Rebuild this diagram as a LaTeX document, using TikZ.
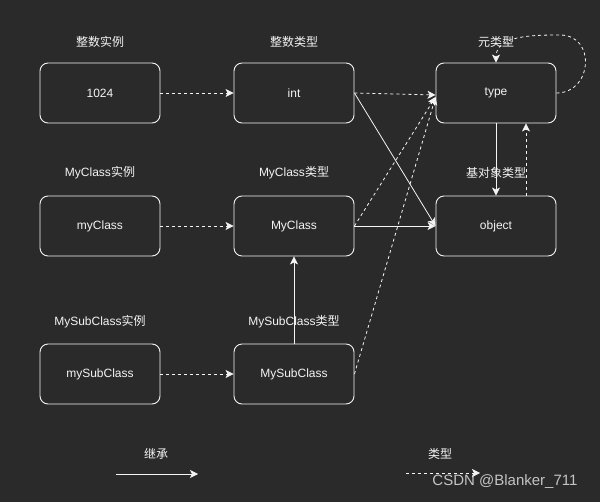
\documentclass[tikz,border=0pt]{standalone}
\usepackage{fontspec}
\setmainfont{Liberation Sans}
\newfontfamily\cjk{Noto Sans CJK SC}
\usetikzlibrary{arrows.meta}
\definecolor{bgdark}{HTML}{2A2A2A}
\definecolor{fg}{HTML}{F4F4F4}
\definecolor{mark}{HTML}{C4C4C4}
\tikzset{
  box/.style={draw=fg, line width=0.9pt, rounded corners=8pt, minimum width=120pt, minimum height=60pt, text=fg, font=\fontsize{12}{14}\selectfont, inner sep=0pt},
  caption/.style={text=fg, font=\fontsize{12}{14}\selectfont, inner sep=1pt},
  inherit/.style={draw=fg, line width=0.8pt, -{Stealth[length=8pt,width=8pt,inset=2pt]}},
  typeof/.style={inherit, dash pattern=on 3pt off 3pt}
}
\begin{document}
\begin{tikzpicture}[x=1pt,y=1pt]
  \fill[bgdark] (0,0) rectangle (600,-502);
  \useasboundingbox (0,0) rectangle (600,-502);
  % boxes
  \node[box] (v1024) at (100,-93) {1024};
  \node[box] (int) at (294,-93) {int};
  \node[box] (type) at (496,-93) {type};
  \node[box] (myobj) at (100,-226) {myClass};
  \node[box] (MyClass) at (294,-226) {MyClass};
  \node[box] (object) at (496,-226) {object};
  \node[box] (mysubobj) at (100,-374) {mySubClass};
  \node[box] (MySubClass) at (294,-374) {MySubClass};
  % captions
  \node[caption] (c1) at (100,-42) {\cjk 整数实例};
  \node[caption] (c2) at (294,-42) {\cjk 整数类型};
  \node[caption] (c3) at (496,-42) {\cjk 元类型};
  \node[caption] (c4) at (100,-173) {MyClass{\cjk 实例}};
  \node[caption] (c5) at (294,-173) {MyClass{\cjk 类型}};
  \node[caption] (c6) at (496,-173) {\cjk 基对象类型};
  \node[caption] (c7) at (100,-322) {MySubClass{\cjk 实例}};
  \node[caption] (c8) at (294,-322) {MySubClass{\cjk 类型}};
  % legend
  \node[caption] (l1) at (156,-454) {\cjk 继承};
  \node[caption] (l2) at (440,-454) {\cjk 类型};
  \coordinate (l1a) at (116,-474);
  \coordinate (l1b) at (198,-474);
  \coordinate (l2a) at (406,-473);
  \coordinate (l2b) at (480,-473);
  \coordinate (loop) at (560,-35);
  \node[text=mark, font=\fontsize{15}{17}\selectfont, inner sep=0pt] (wm) at (505,-482) {CSDN @Blanker\_711};
  \begin{scope}[typeof]
    \draw (v1024) -- (int);
    \draw (myobj) -- (MyClass);
    \draw (mysubobj) -- (MySubClass);
    \draw (int.east) -- ([yshift=-2pt]type.west);
    \draw (MyClass.east) -- ([yshift=-4pt]type.west);
    \draw (MySubClass.east) -- ([yshift=-4pt]type.west);
    \draw ([xshift=30pt]object.north) -- ([xshift=30pt]type.south);
    \draw (type.east) to[out=0,in=0,looseness=1.6] (loop) to[out=180,in=90] (type.north);
    \draw (l2a) -- (l2b);
  \end{scope}
  \begin{scope}[inherit]
    \draw (int.east) -- (object.west);
    \draw (MyClass.east) -- (object.west);
    \draw (MySubClass.north) -- (MyClass.south);
    \draw (type.south) -- (object.north);
    \draw (l1a) -- (l1b);
  \end{scope}
\end{tikzpicture}
\end{document}
